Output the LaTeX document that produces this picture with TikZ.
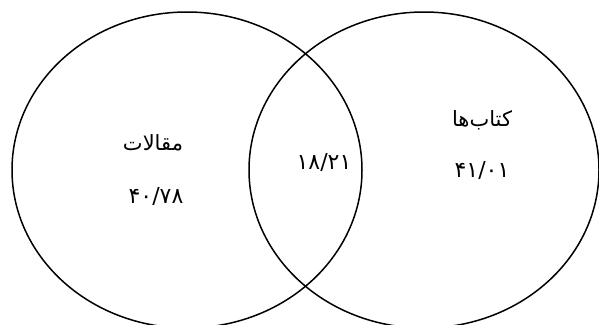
\documentclass[tikz,border=0pt]{standalone}
\usepackage{fontspec}
\usepackage{tikz}
\usetikzlibrary{shapes.geometric}
\TeXXeTstate=1
\newfontfamily\arabicfont[Script=Arabic]{DejaVu Sans}
\tikzstyle{set} = [draw, ellipse, line width=1.5pt, inner sep=0, minimum width=350pt, minimum height=316pt]
\tikzstyle{setname} = [font=\arabicfont\fontsize{21}{24}\selectfont, inner sep=0]
\tikzstyle{setvalue} = [font=\arabicfont\fontsize{22}{26}\selectfont, inner sep=0]

\begin{document}
\begin{tikzpicture}[x=1pt, y=-1pt]
        \useasboundingbox (0,0) rectangle (599,324);
        \node [set] (articles) at (187,170) {};
        \node [set] (books) at (424,170) {};
        \node [setname] (articlesName) at (153,143) {\beginR مقالات\endR};
        \node [setvalue] (articlesValue) at (156,196) {۴۰/۷۸};
        \node [setvalue] (bothValue) at (324,162) {۱۸/۲۱};
        \node [setname] (booksName) at (482,120) {\beginR کتاب‌ها\endR};
        \node [setvalue] (booksValue) at (482,170) {۴۱/۰۱};
    \end{tikzpicture}
\end{document}
